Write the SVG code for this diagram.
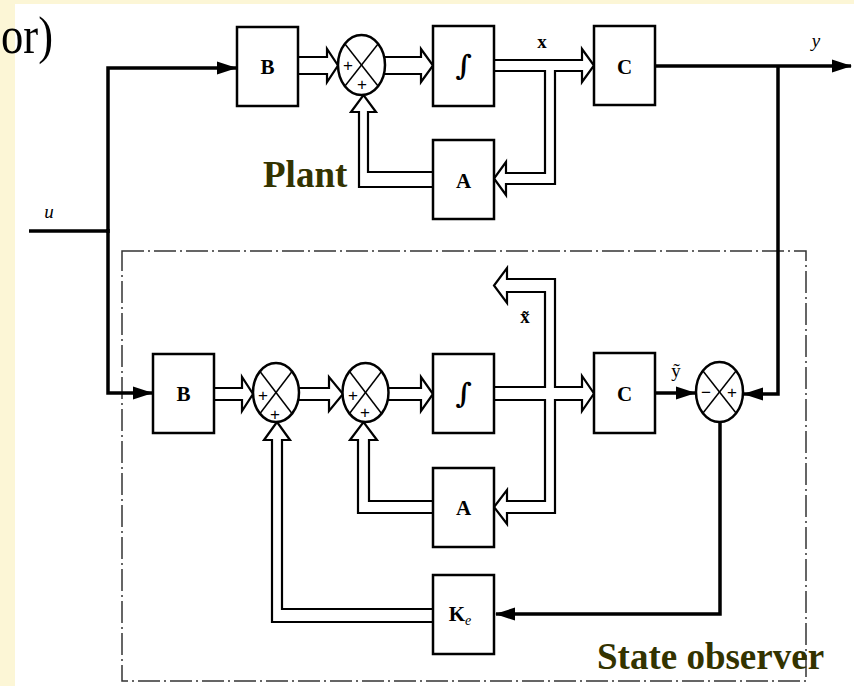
<svg xmlns="http://www.w3.org/2000/svg" width="854" height="686" viewBox="0 0 854 686">
<style>
.box{fill:#fff;stroke:#000;stroke-width:2.5}
.sum{fill:#fff;stroke:#000;stroke-width:2.5}
.xl{stroke:#000;stroke-width:1.5}
.dl{fill:none;stroke:#000;stroke-width:2.2;stroke-linejoin:miter}
.sl{fill:none;stroke:#000;stroke-width:3.5;stroke-linejoin:miter}
.frame{fill:none;stroke:#333;stroke-width:1.5;stroke-dasharray:22 4 2 4}
.lbl{font-family:"Liberation Serif","Times New Roman",serif;font-weight:bold;font-size:21px;text-anchor:middle;fill:#000}
.int{font-family:"DejaVu Serif",serif;font-weight:bold;font-size:28px;text-anchor:middle;fill:#000}
.sgn{font-family:"Liberation Sans",Arial,sans-serif;font-size:17px;text-anchor:middle;fill:#000}
.var{font-family:"Liberation Serif","Times New Roman",serif;font-size:19px;text-anchor:middle;fill:#000}
.title{font-family:"Liberation Serif","Times New Roman",serif;font-weight:bold;font-size:37px;fill:#333300}
</style>
<defs>
<marker id="ah" markerUnits="userSpaceOnUse" viewBox="0 0 20 14" markerWidth="20" markerHeight="14" refX="19" refY="7" orient="auto">
<path d="M0,0.5 L20,7 L0,13.5 Z" fill="#000"/>
</marker>
</defs>
<rect x="0" y="0" width="854" height="686" fill="#FCF6D6"/>
<rect x="15" y="4" width="839" height="682" fill="#fff"/>
<text x="1" y="53" font-family="'Liberation Serif','Times New Roman',serif" font-size="52" textLength="52" lengthAdjust="spacingAndGlyphs" fill="#000">or)</text>

<rect id="observer-frame" class="frame" x="122" y="251" width="684" height="430"/>

<g id="connectors">
<path class="sl" d="M29,231 L108,231"/>
<path class="sl" d="M108,233 L108,68 L236,68" marker-end="url(#ah)"/>
<path class="sl" d="M108,229 L108,393 L152,393" marker-end="url(#ah)"/>
<path class="dl" d="M298,57 L327,57 L327,49 L338,65.5 L327,82 L327,74 L298,74"/>
<path class="dl" d="M384,57 L421,57 L421,49 L433,65.5 L421,82 L421,74 L384,74"/>
<path class="dl" d="M494,60 L582,60 L582,49 L594,65.5 L582,82 L582,71 L555,71 L555,184 L506,184 L506,195 L494,178.5 L506,162 L506,173 L545,173 L545,71 L494,71"/>
<path class="dl" d="M433,172 L368,172 L368,112 L376,112 L363.5,95 L351,112 L359,112 L359,187 L433,187"/>
<path class="sl" d="M655,66 L851,66" marker-end="url(#ah)"/>
<path class="sl" d="M778,66 L778,394 L744,394" marker-end="url(#ah)"/>
<path class="dl" d="M214,388 L242,388 L242,377 L253,394 L242,411 L242,400 L214,400"/>
<path class="dl" d="M298,388 L329,388 L329,377 L343,394 L329,411 L329,400 L298,400"/>
<path class="dl" d="M387,388 L421,388 L421,377 L433,394 L421,411 L421,400 L387,400"/>
<path class="dl" d="M494,387 L545,387 L545,292 L507,292 L507,303 L494,285.5 L507,268 L507,279 L555,279 L555,387 L582,387 L582,376 L594,393.5 L582,411 L582,400 L555,400 L555,513 L507,513 L507,524 L494,507 L507,490 L507,501 L545,501 L545,400 L494,400"/>
<path class="dl" d="M433,501 L369,501 L369,440 L377,440 L363.5,422 L350,440 L358,440 L358,513 L433,513"/>
<path class="dl" d="M433,609 L282,609 L282,440 L290,440 L277,422 L264,440 L272,440 L272,622 L433,622"/>
<path class="sl" d="M655,393 L695,393" marker-end="url(#ah)"/>
<path class="sl" d="M720,422 L720,614 L496,614" marker-end="url(#ah)"/>
</g>

<g id="plant-B"><rect class="box" x="237" y="27" width="61" height="79"/><text class="lbl" x="267.5" y="74">B</text></g>
<g id="plant-sum"><ellipse class="sum" cx="361.5" cy="65" rx="23.5" ry="30"/><line class="xl" x1="345" y1="44" x2="378" y2="86"/><line class="xl" x1="378" y1="44" x2="345" y2="86"/><text class="sgn" x="348" y="71">+</text><text class="sgn" x="362" y="90">+</text></g>
<g id="plant-int"><rect class="box" x="433" y="26" width="61" height="80"/><text class="int" x="463.5" y="75">∫</text></g>
<g id="plant-C"><rect class="box" x="594" y="26" width="61" height="79"/><text class="lbl" x="624.5" y="74">C</text></g>
<g id="plant-A"><rect class="box" x="433" y="140" width="61" height="79"/><text class="lbl" x="463.5" y="188">A</text></g>

<g id="obs-B"><rect class="box" x="153" y="354" width="61" height="79"/><text class="lbl" x="183.5" y="401">B</text></g>
<g id="obs-sum1"><ellipse class="sum" cx="276" cy="392.5" rx="23" ry="29.5"/><line class="xl" x1="260" y1="371.5" x2="292" y2="413.5"/><line class="xl" x1="292" y1="371.5" x2="260" y2="413.5"/><text class="sgn" x="263" y="401">+</text><text class="sgn" x="275" y="420">+</text></g>
<g id="obs-sum2"><ellipse class="sum" cx="365.5" cy="392.5" rx="23" ry="29.5"/><line class="xl" x1="349.5" y1="371.5" x2="381.5" y2="413.5"/><line class="xl" x1="381.5" y1="371.5" x2="349.5" y2="413.5"/><text class="sgn" x="353" y="401">+</text><text class="sgn" x="365" y="418">+</text></g>
<g id="obs-int"><rect class="box" x="433" y="354" width="61" height="79"/><text class="int" x="463.5" y="403">∫</text></g>
<g id="obs-C"><rect class="box" x="594" y="353" width="61" height="80"/><text class="lbl" x="624.5" y="401">C</text></g>
<g id="obs-err"><ellipse class="sum" cx="719.5" cy="392" rx="23.5" ry="30"/><line class="xl" x1="703" y1="371" x2="736" y2="413"/><line class="xl" x1="736" y1="371" x2="703" y2="413"/><text class="sgn" x="706" y="398">−</text><text class="sgn" x="732" y="398">+</text></g>
<g id="obs-A"><rect class="box" x="433" y="468" width="61" height="79"/><text class="lbl" x="463.5" y="515">A</text></g>
<g id="obs-Ke"><rect class="box" x="433" y="575" width="61" height="79"/><text class="lbl" x="460" y="621">K<tspan font-style="italic" font-weight="normal" font-size="14" dy="4">e</tspan></text></g>

<g id="labels">
<text class="var" x="542" y="48" font-weight="bold">x</text>
<text class="var" x="816" y="47" font-style="italic">y</text>
<text class="var" x="49" y="218" font-style="italic" font-size="18">u</text>
<text class="var" x="525" y="323" font-weight="bold">x̃</text>
<text class="var" x="676" y="377">ỹ</text>
<text class="title" x="263" y="187">Plant</text>
<text class="title" x="597" y="669">State observer</text>
</g>
</svg>
